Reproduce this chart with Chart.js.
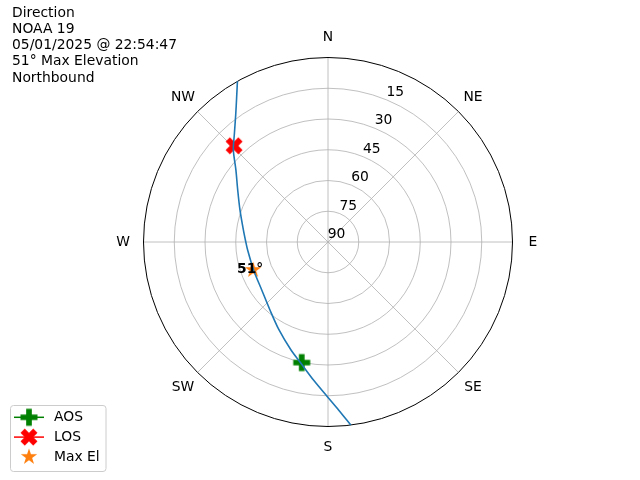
<!DOCTYPE html>
<html>
<head>
<meta charset="utf-8">
<script src="https://cdn.jsdelivr.net/npm/chart.js@4"></script>
<style>
  html, body { margin: 0; padding: 0; background: #fff; }
  #wrap { width: 640px; height: 480px; }
</style>
</head>
<body>
<div id="wrap"><canvas id="pass"></canvas></div>
<script>
// pass track, azimuth (deg, clockwise from N) and elevation (deg)
const trackAz = [172.9, 176.4, 180, 186.0, 192.8, 198.9, 209.1, 220.5, 234.1, 249.2, 264.3, 270, 278.1, 290.0, 299.9, 308.0, 314.2, 318.8, 324.0, 327.6, 330.6];
const trackEl = [0, 7.9, 14.2, 22.3, 29.6, 34.3, 40.9, 46.4, 50.1, 51.2, 50.6, 49.9, 48.3, 44.3, 39.2, 33.0, 25.6, 20.6, 13.4, 6.8, 0];

const markerNames = ['AOS', 'LOS', 'Max El'];
const markerAz = [192.3, 315.7, 249.5];
const markerEl = [29.8, 24.4, 51];

const compassLabels = ['N', 'NE', 'E', 'SE', 'S', 'SW', 'W', 'NW'];
const ringValues = [0, 15, 30, 45, 60, 75];         // zenith distance
const ringLabels = ['90', '75', '60', '45', '30', '15'];

const infoLines = ['Direction', 'NOAA 19', '05/01/2025 @ 22:54:47', '51\u00b0 Max Elevation', 'Northbound'];

const FONT = '13.89px "DejaVu Sans"';
const GRID = '#b0b0b0';

function toXY(az, el) {
    const r = 90 - el;
    const a = az * Math.PI / 180;
    return { x: r * Math.sin(a), y: r * Math.cos(a) };
}

function makeMarker(kind, color) {
    const c = document.createElement('canvas');
    c.width = 24; c.height = 24;
    const g = c.getContext('2d');
    g.translate(12, 12);
    g.fillStyle = color;
    g.beginPath();
    if (kind === 'star') {
        const R = 8.6, r = R * 0.382;
        for (let i = 0; i < 10; i++) {
            const rad = i % 2 === 0 ? R : r;
            const a = i * Math.PI / 5;
            g.lineTo(rad * Math.sin(a), -rad * Math.cos(a));
        }
    } else {
        const s = kind === 'x' ? 9 : 8.5;
        if (kind === 'x') g.rotate(Math.PI / 4);
        const pts = [[-1, -3], [1, -3], [1, -1], [3, -1], [3, 1], [1, 1], [1, 3], [-1, 3], [-1, 1], [-3, 1], [-3, -1], [-1, -1]];
        pts.forEach(p => g.lineTo(p[0] * s / 3, p[1] * s / 3));
    }
    g.closePath();
    g.fill();
    return c;
}

const markerColors = ['#008000', '#ff0000', '#ff7f0e'];
const markerLines = [true, true, false];
const markerImgs = [makeMarker('plus', markerColors[0]), makeMarker('x', markerColors[1]), makeMarker('star', markerColors[2])];

const polarGrid = {
    id: 'polarGrid',
    beforeDatasetsDraw(chart) {
        const ctx = chart.ctx;
        const xs = chart.scales.x, ys = chart.scales.y;
        const cx = xs.getPixelForValue(0), cy = ys.getPixelForValue(0);
        const pxPerDeg = (xs.getPixelForValue(90) - cx) / 90;
        ctx.save();
        ctx.strokeStyle = GRID;
        ctx.lineWidth = 0.8;
        ringValues.forEach(v => {
            if (v === 0) return;
            ctx.beginPath();
            ctx.arc(cx, cy, v * pxPerDeg, 0, Math.PI * 2);
            ctx.stroke();
        });
        for (let i = 0; i < 8; i++) {
            const a = i * Math.PI / 4;
            ctx.beginPath();
            ctx.moveTo(cx, cy);
            ctx.lineTo(cx + 90 * pxPerDeg * Math.sin(a), cy - 90 * pxPerDeg * Math.cos(a));
            ctx.stroke();
        }
        ctx.strokeStyle = '#000';
        ctx.lineWidth = 1;
        ctx.beginPath();
        ctx.arc(cx, cy, 90 * pxPerDeg, 0, Math.PI * 2);
        ctx.stroke();

        ctx.fillStyle = '#000';
        ctx.font = FONT;
        ctx.textAlign = 'center';
        ctx.textBaseline = 'middle';
        compassLabels.forEach((t, i) => {
            const a = i * Math.PI / 4;
            ctx.fillText(t, cx + 205 * Math.sin(a), cy - 205 * Math.cos(a));
        });
        const la = 22.5 * Math.PI / 180;
        ringValues.forEach((v, i) => {
            const r = v * pxPerDeg;
            ctx.fillText(ringLabels[i], cx + r * Math.sin(la) + 8.5, cy - r * Math.cos(la) - 7.5);
        });
        ctx.restore();
    },
    afterDraw(chart) {
        const ctx = chart.ctx;
        ctx.save();
        ctx.fillStyle = '#000';
        ctx.font = FONT;
        ctx.textAlign = 'left';
        ctx.textBaseline = 'alphabetic';
        infoLines.forEach((t, i) => ctx.fillText(t, 12, 16.7 + i * 16.25));

        // max elevation annotation
        const p = toXY(markerAz[2], markerEl[2]);
        const px = chart.scales.x.getPixelForValue(p.x), py = chart.scales.y.getPixelForValue(p.y);
        ctx.font = 'bold 13.89px "DejaVu Sans"';
        ctx.textAlign = 'center';
        ctx.textBaseline = 'middle';
        ctx.fillText(Math.round(markerEl[2]) + '\u00b0', px - 3, py - 1);

        // legend
        ctx.strokeStyle = '#cccccc';
        ctx.lineWidth = 1;
        ctx.fillStyle = 'rgba(255,255,255,0.8)';
        ctx.beginPath();
        ctx.roundRect(10.5, 405.5, 95.5, 66, 3);
        ctx.fill();
        ctx.stroke();
        ctx.font = FONT;
        ctx.textAlign = 'left';
        ctx.textBaseline = 'middle';
        markerNames.forEach((name, i) => {
            const y = 417.3 + i * 19.8;
            if (markerLines[i]) {
                ctx.strokeStyle = markerColors[i];
                ctx.lineWidth = 1.5;
                ctx.beginPath();
                ctx.moveTo(14, y);
                ctx.lineTo(44, y);
                ctx.stroke();
            }
            ctx.drawImage(markerImgs[i], 29 - 12, y - 12);
            ctx.fillStyle = '#000';
            ctx.fillText(name, 54, y);
        });
        ctx.restore();
    }
};

function createPassChart(chartId) {
    const ctx = document.getElementById(chartId);
    const track = trackAz.map((az, i) => toXY(az, trackEl[i]));
    const markerSets = markerNames.map((name, i) => ({
        label: name,
        data: [toXY(markerAz[i], markerEl[i])],
        pointStyle: markerImgs[i],
        pointRadius: 9,
        showLine: false
    }));

    ctx.chartInstance = new Chart(ctx, {
        type: 'scatter',
        data: {
            datasets: [{
                label: 'track',
                data: track,
                showLine: true,
                borderColor: '#1f77b4',
                borderWidth: 1.6,
                pointRadius: 0,
                tension: 0.3
            }].concat(markerSets)
        },
        options: {
            responsive: false,
            animation: false,
            layout: { padding: { left: 143.5, right: 127.5, top: 57.5, bottom: 53.5 } },
            scales: {
                x: { type: 'linear', min: -90, max: 90, display: false },
                y: { type: 'linear', min: -90, max: 90, display: false }
            },
            plugins: {
                legend: { display: false },
                tooltip: { enabled: false }
            }
        },
        plugins: [polarGrid]
    });
}

const cv = document.getElementById('pass');
cv.width = 640; cv.height = 480;
createPassChart('pass');
</script>
</body>
</html>
